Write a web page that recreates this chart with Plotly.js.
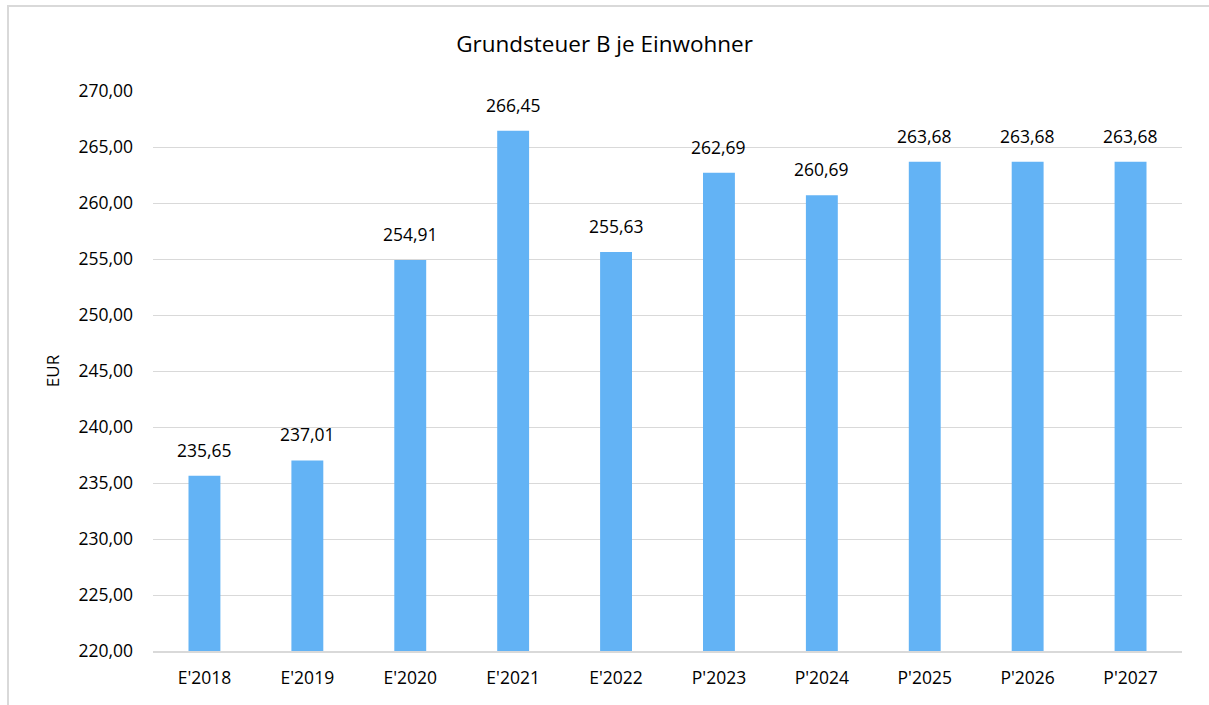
<!DOCTYPE html>
<html>
<head>
<meta charset="utf-8">
<script src="https://cdn.plot.ly/plotly-3.0.1.min.js"></script>
<style>
  html, body { margin: 0; padding: 0; background: #fff; }
  #frame { position: absolute; left: 7px; top: 5px; width: 1210px; height: 720px; border-left: 2px solid #d9d9d9; border-top: 2px solid #d9d9d9; box-sizing: border-box; pointer-events: none; z-index: 5; }
  #chart { width: 1209px; height: 705px; }
</style>
</head>
<body>
<div id="frame"></div>
<div id="chart"></div>
<script>
const categories = ["E'2018", "E'2019", "E'2020", "E'2021", "E'2022", "P'2023", "P'2024", "P'2025", "P'2026", "P'2027"];
const values = [235.65, 237.01, 254.91, 266.45, 255.63, 262.69, 260.69, 263.68, 263.68, 263.68];
const yTickValues = [220, 225, 230, 235, 240, 245, 250, 255, 260, 265, 270];

const fontFam = "Open Sans, sans-serif";
const fmt = v => v.toFixed(2).replace('.', ',');

const trace = {
  type: 'bar',
  x: categories,
  y: values,
  width: 0.31,
  marker: { color: '#63b3f5', line: { width: 0 } },
  hoverinfo: 'x+y'
};

const annotations = categories.map((c, i) => ({
  x: c, y: values[i], xref: 'x', yref: 'y',
  text: fmt(values[i]),
  showarrow: false,
  yanchor: 'bottom',
  yshift: 12,
  font: { family: fontFam, size: 17.5, color: '#000' }
}));

const layout = {
  width: 1209,
  height: 705,
  separators: ',.',
  margin: { l: 153, r: 27, t: 91, b: 54 },
  paper_bgcolor: '#fff',
  plot_bgcolor: '#fff',
  showlegend: false,
  title: {
    text: 'Grundsteuer B je Einwohner',
    font: { family: fontFam, size: 22.5, color: '#000' },
    x: 0.5, xanchor: 'center',
    y: 0.937, yanchor: 'middle'
  },
  xaxis: {
    type: 'category',
    tickfont: { family: fontFam, size: 17.5, color: '#000' },
    showline: true, linecolor: '#d9d9d9', linewidth: 2,
    ticks: '', showgrid: false,
    ticklabelstandoff: 10
  },
  yaxis: {
    range: [220, 270],
    tickvals: yTickValues,
    tickformat: '.2f',
    tickfont: { family: fontFam, size: 17.5, color: '#000' },
    gridcolor: '#d9d9d9', gridwidth: 1,
    zeroline: false, showline: false, ticks: '',
    ticklabelstandoff: 19,
    title: { text: 'EUR', font: { family: fontFam, size: 17, color: '#000' }, standoff: 14 }
  },
  annotations: annotations,
  bargap: 0.69
};

Plotly.newPlot('chart', [trace], layout, { displayModeBar: false, staticPlot: true });
</script>
</body>
</html>
